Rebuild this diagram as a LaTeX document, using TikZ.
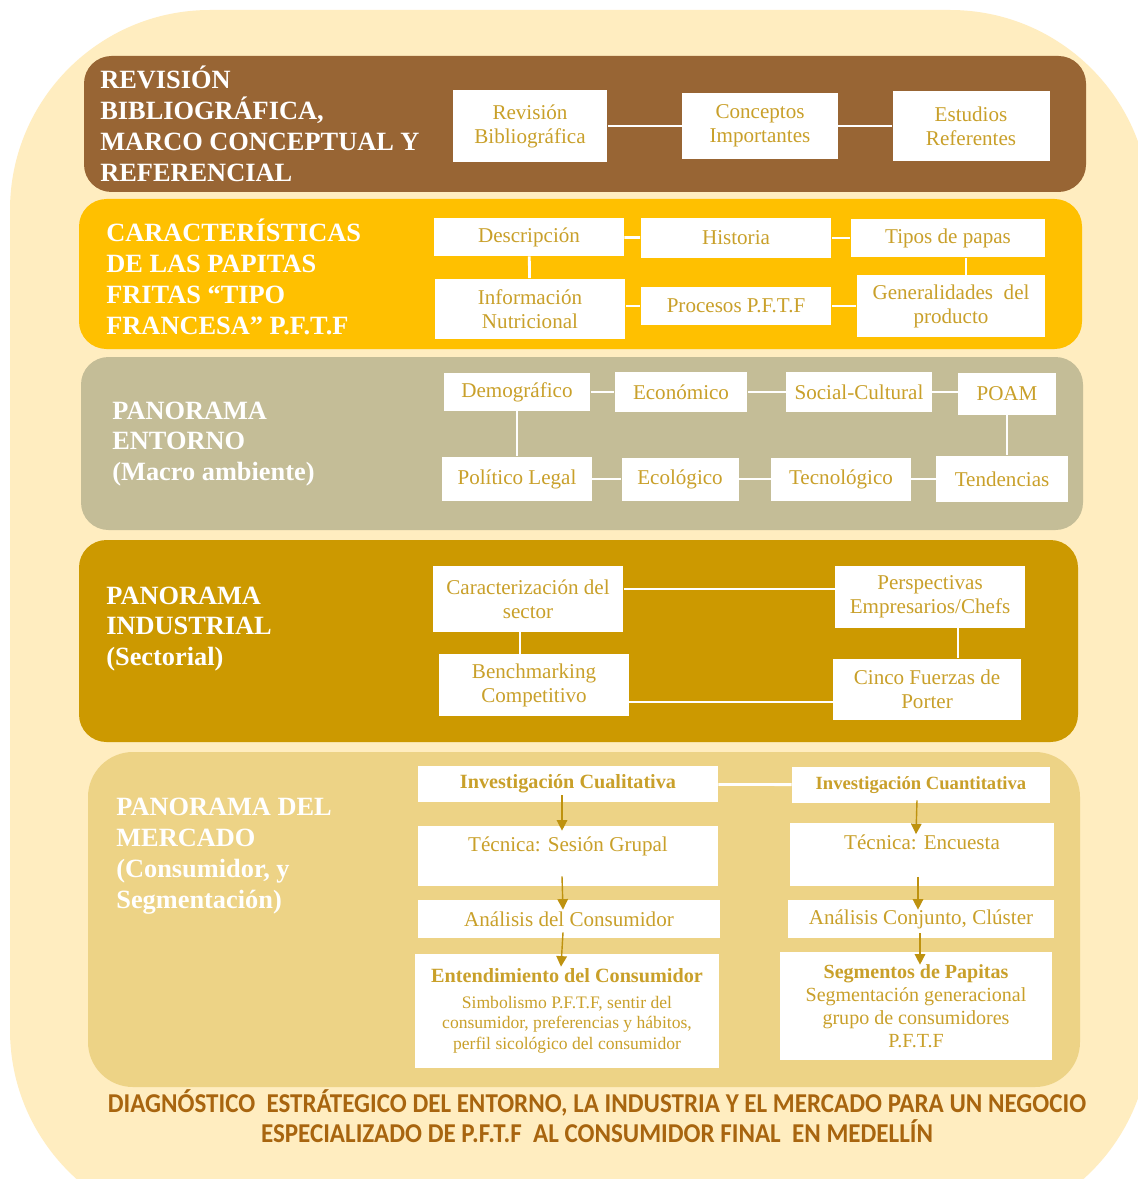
\documentclass[tikz,border=0pt]{standalone}
\usepackage{fontspec}
\setmainfont{Liberation Serif}
\newfontfamily\titlefont[FakeStretch=0.92]{Carlito}
\usetikzlibrary{positioning,calc,arrows.meta}

\definecolor{paleback}{HTML}{FFEDC0}
\definecolor{bandbrown}{HTML}{986534}
\definecolor{bandyellow}{HTML}{FFC000}
\definecolor{bandkhaki}{HTML}{C4BD97}
\definecolor{bandgold}{HTML}{CC9900}
\definecolor{bandlight}{HTML}{EDD386}
\definecolor{itemtext}{HTML}{C9A02A}
\definecolor{flowgold}{HTML}{BE920F}
\definecolor{titletext}{HTML}{A8650F}

\tikzset{
  band/.style={rounded corners=0.55cm},
  band label/.style={anchor=west,text=white,align=left,inner sep=0pt,
    font=\bfseries\fontsize{15}{17.6}\selectfont},
  item/.style={fill=white,text=itemtext,align=center,inner sep=1pt,
    font=\fontsize{12}{13.6}\selectfont},
  link/.style={draw=white,line width=1.6pt},
  flow/.style={draw=flowgold,line width=0.8pt,-{Triangle[length=6pt,width=6pt]}}
}

\begin{document}
\begin{tikzpicture}[x=0.02cm,y=-0.02cm]
  \useasboundingbox (0,0) rectangle (1138,1179);
  \clip (0,0) rectangle (1138,1179);
  \fill[white] (0,0) rectangle (1138,1179);
  \fill[paleback, rounded corners=4cm] (10,10) rectangle (1150,1230);

  % bands
  \fill[band, bandbrown] (84,56) rectangle (1086,192);
  \fill[band, bandyellow] (79,199) rectangle (1082,349);
  \fill[band, bandkhaki] (81,357) rectangle (1083,530);
  \fill[band, bandgold] (79,540) rectangle (1078,742);
  \fill[band, bandlight, rounded corners=0.9cm] (88,752) rectangle (1080,1087);

  \node[band label] (lbl1) at (100,124) {REVISIÓN\\BIBLIOGRÁFICA,\\MARCO CONCEPTUAL Y\\REFERENCIAL};
  \node[band label] (lbl2) at (106,277) {CARACTERÍSTICAS\\DE LAS PAPITAS\\FRITAS “TIPO\\FRANCESA” P.F.T.F};
  \node[band label] (lbl3) at (112,444) {PANORAMA\\ENTORNO\\(Macro ambiente)};
  \node[band label] (lbl4) at (106,629) {PANORAMA\\INDUSTRIAL\\(Sectorial)};
  \node[band label] (lbl5) at (116,856) {PANORAMA DEL\\MERCADO\\(Consumidor, y\\Segmentación)};

  % revision
  \node[item, minimum width=3.1cm, minimum height=1.44cm] (rb) at (530,126) {Revisión\\Bibliográfica};
  \node[item, minimum width=3.12cm, minimum height=1.34cm] (ci) at (760,126) {Conceptos\\Importantes};
  \node[item, minimum width=3.14cm, minimum height=1.42cm] (er) at (971,126) {Estudios\\Referentes};
  \draw[link] (rb) -- (ci);
  \draw[link] (ci) -- (er);

  % caracteristicas
  \node[item, minimum width=3.8cm, minimum height=0.76cm] (desc) at (529,237) {Descripción};
  \node[item, minimum width=3.82cm, minimum height=0.82cm] (hist) at (736,238) {Historia};
  \node[item, minimum width=3.9cm, minimum height=0.78cm] (tipos) at (948,238) {Tipos de papas};
  \node[item, minimum width=3.82cm, minimum height=1.22cm] (info) at (530,309) {Información\\Nutricional};
  \node[item, minimum width=3.82cm, minimum height=0.76cm] (proc) at (736,306) {Procesos P.F.T.F};
  \node[item, minimum width=3.78cm, minimum height=1.24cm] (gen) at (951,306) {Generalidades\ \ del\\producto};
  \draw[link] (desc) -- (hist);
  \draw[link] (hist) -- (tipos);
  \draw[link] (desc) -- (info);
  \draw[link] ([xshift=0.36cm]tipos.south) -- ([xshift=0.36cm]tipos.south |- gen.north);
  \draw[link] (info.east |- proc) -- (proc);
  \draw[link] (proc) -- (gen);

  % entorno
  \node[item, minimum width=2.94cm, minimum height=0.76cm] (dem) at (517,392) {Demográfico};
  \node[item, minimum width=2.66cm, minimum height=0.82cm] (econ) at (681,392) {Económico};
  \node[item, minimum width=2.92cm, minimum height=0.82cm] (soc) at (859,392) {Social-Cultural};
  \node[item, minimum width=1.96cm, minimum height=0.84cm] (poam) at (1007,394) {POAM};
  \node[item, minimum width=3.0cm, minimum height=0.9cm] (pol) at (517,479) {Político Legal};
  \node[item, minimum width=2.34cm, minimum height=0.86cm] (ecol) at (680,479) {Ecológico};
  \node[item, minimum width=2.8cm, minimum height=0.86cm] (tec) at (841,479) {Tecnológico};
  \node[item, minimum width=2.64cm, minimum height=0.94cm] (tend) at (1002,479) {Tendencias};
  \draw[link] (dem) -- (econ);
  \draw[link] (econ) -- (soc);
  \draw[link] (soc) -- (soc -| poam.west);
  \draw[link] (dem) -- (pol);
  \draw[link] (poam.south) -- (poam.south |- tend.north);
  \draw[link] (pol) -- (ecol);
  \draw[link] (ecol) -- (tec);
  \draw[link] (tec) -- (tend);

  % industrial
  \node[item, minimum width=3.82cm, minimum height=1.32cm] (car) at (528,599) {Caracterización del\\sector};
  \node[item, minimum width=3.8cm, minimum height=1.24cm] (per) at (930,597) {Perspectivas\\Empresarios/Chefs};
  \node[item, minimum width=3.8cm, minimum height=1.24cm] (ben) at (534,685) {Benchmarking\\Competitivo};
  \node[item, minimum width=3.76cm, minimum height=1.22cm] (cin) at (927,689) {Cinco Fuerzas de\\Porter};
  \draw[link] ([yshift=0.2cm]car.east) -- ([yshift=0.2cm]car.east -| per.west);
  \draw[link] ([xshift=-0.16cm]car.south) -- ([xshift=-0.16cm]car.south |- ben.north);
  \draw[link] ([xshift=0.56cm]per.south) -- ([xshift=0.56cm]per.south |- cin.north);
  \draw[link] ([yshift=-0.34cm]ben.east) -- ([yshift=-0.34cm]ben.east -| cin.west);

  % mercado
  \node[item, minimum width=6.0cm, minimum height=0.72cm, font=\bfseries\fontsize{11.5}{13}\selectfont] (qual) at (568,784) {Investigación Cualitativa};
  \node[item, minimum width=5.16cm, minimum height=0.72cm, font=\bfseries\fontsize{10.6}{13}\selectfont] (quan) at (921,785) {Investigación Cuantitativa};
  \node[item, minimum width=6.0cm, minimum height=1.2cm] (tg) at (568,856) {Técnica: Sesión Grupal\\ \mbox{}};
  \node[item, minimum width=5.28cm, minimum height=1.26cm] (te) at (922,854) {Técnica: Encuesta\\ \mbox{}};
  \node[item, minimum width=6.04cm, minimum height=0.76cm] (ac) at (569,919) {Análisis del Consumidor};
  \node[item, minimum width=5.32cm, minimum height=0.76cm] (acl) at (921,919) {Análisis Conjunto, Clúster};
  \node[item, minimum width=6.1cm, minimum height=2.28cm, font=\fontsize{10}{11.6}\selectfont] (ent) at (567,1011)
    {{\bfseries\fontsize{11.5}{13}\selectfont Entendimiento del Consumidor}\\[3pt]
     Simbolismo P.F.T.F, sentir del\\consumidor, preferencias y hábitos,\\perfil sicológico del consumidor};
  \node[item, minimum width=5.46cm, minimum height=2.16cm, font=\fontsize{11.4}{13.2}\selectfont] (seg) at (916,1006)
    {{\bfseries Segmentos de Papitas}\\Segmentación generacional\\grupo de consumidores\\P.F.T.F};
  \draw[link] (qual) -- (quan);
  \draw[flow] ($(qual.south)+(-6,-7)$) -- ($(tg.north)+(-6,5)$);
  \draw[flow] ($(tg.south)+(-6,-10)$) -- ($(ac.north)+(-6,10)$);
  \draw[flow] ($(ac.south)+(-6,-6)$) -- ($(ent.north)+(-6,13)$);
  \draw[flow] ($(quan.south)+(-4,-3)$) -- ($(te.north)+(-6,12)$);
  \draw[flow] ($(te.south)+(-4,-9)$) -- ($(acl.north)+(-3,10)$);
  \draw[flow] ($(acl.south)+(-1,-5)$) -- ($(seg.north)+(4,13)$);

  \node[text=titletext, align=center, font=\titlefont\bfseries\fontsize{15.5}{17}\selectfont] (title) at (597,1116)
    {DIAGNÓSTICO\ \ ESTRÁTEGICO DEL ENTORNO, LA INDUSTRIA Y EL MERCADO PARA UN NEGOCIO\\ESPECIALIZADO DE P.F.T.F\ \ AL CONSUMIDOR FINAL\ \ EN MEDELLÍN};
\end{tikzpicture}
\end{document}
